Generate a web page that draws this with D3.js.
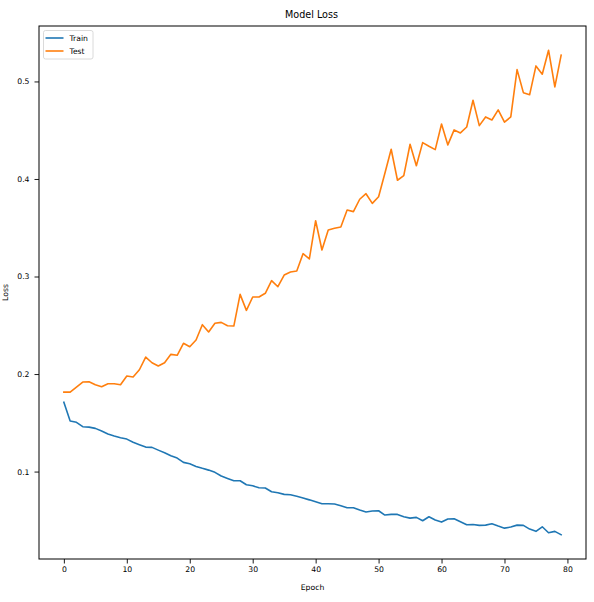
<!DOCTYPE html>
<html>
<head>
<meta charset="utf-8">
<script src="https://cdn.jsdelivr.net/npm/d3@7"></script>
<style>
  html, body { margin: 0; padding: 0; background: #fff; }
  svg { display: block; }
  text { font-family: "DejaVu Sans", sans-serif; fill: #000; }
</style>
</head>
<body>
<svg id="chart" width="594" height="602"></svg>
<script>
const epochs = d3.range(80);
const trainLoss = [
  0.171, 0.1518, 0.1505, 0.146, 0.1456, 0.1443, 0.1415, 0.1385, 0.1364, 0.1347,
  0.1333, 0.130, 0.1275, 0.1251, 0.1248, 0.122, 0.1193, 0.1162, 0.1138, 0.1094,
  0.108, 0.1053, 0.1033, 0.1015, 0.0992, 0.0954, 0.093, 0.0906, 0.0906, 0.0865,
  0.0854, 0.0834, 0.0831, 0.0793, 0.0783, 0.0766, 0.0763, 0.0746, 0.0728, 0.0710,
  0.069, 0.067, 0.067, 0.0667, 0.065, 0.0629, 0.0629, 0.0605, 0.0585, 0.0595,
  0.0598, 0.0554, 0.0561, 0.0561, 0.0537, 0.0523, 0.053, 0.0496, 0.0537, 0.0503,
  0.0482, 0.0513, 0.0516, 0.0485, 0.0454, 0.0458, 0.0448, 0.0451, 0.0465, 0.0441,
  0.042, 0.0431, 0.0451, 0.0448, 0.041, 0.0387, 0.0434, 0.0373, 0.0387, 0.0352
];
const testLoss = [
  0.1815, 0.1815, 0.1867, 0.1918, 0.192, 0.189, 0.187, 0.190, 0.190, 0.189,
  0.198, 0.197, 0.2044, 0.2174, 0.2116, 0.2082, 0.2116, 0.2202, 0.2192, 0.2315,
  0.228, 0.2349, 0.2506, 0.2431, 0.252, 0.253, 0.2495, 0.2492, 0.2817, 0.2653,
  0.279, 0.279, 0.2828, 0.2957, 0.2895, 0.3015, 0.3046, 0.3056, 0.3234, 0.318,
  0.3572, 0.3272, 0.3477, 0.3494, 0.3508, 0.3682, 0.3665, 0.3792, 0.3849, 0.375,
  0.3818, 0.4058, 0.4305, 0.3987, 0.4034, 0.4356, 0.4136, 0.4373, 0.4335, 0.4301,
  0.4564, 0.4349, 0.4503, 0.4472, 0.4533, 0.4807, 0.4547, 0.4636, 0.4605, 0.4708,
  0.4582, 0.4636, 0.5121, 0.4885, 0.4864, 0.5159, 0.5074, 0.532, 0.4944, 0.5269
];
const xTicks = [0, 10, 20, 30, 40, 50, 60, 70, 80];
const yTicks = [0.1, 0.2, 0.3, 0.4, 0.5];
const seriesNames = ["Train", "Test"];
const seriesColors = ["#1f77b4", "#ff7f0e"];
const titleText = "Model Loss";
const xLabel = "Epoch";
const yLabel = "Loss";

const svg = d3.select("#chart");
const L = 39, R = 586, T = 26, B = 559;

// matplotlib-style 5% margins
const xMin = d3.min(epochs), xMax = d3.max(epochs);
const xPad = (xMax - xMin) * 0.05;
const allY = trainLoss.concat(testLoss);
const yMin = d3.min(allY), yMax = d3.max(allY);
const yPad = (yMax - yMin) * 0.05;

const x = d3.scaleLinear().domain([xMin - xPad, xMax + xPad]).range([L, R]);
const y = d3.scaleLinear().domain([yMin - yPad, yMax + yPad]).range([B, T]);

const tickFont = "7.7px";

// x axis
const xAxis = svg.append("g")
  .attr("transform", `translate(0,${B})`)
  .call(d3.axisBottom(x).tickValues(xTicks).tickFormat(d3.format("d")).tickSize(4.5).tickPadding(3));
xAxis.select(".domain").remove();
xAxis.selectAll("line").attr("stroke", "#000").attr("stroke-width", 0.9);
xAxis.selectAll("text").style("font-size", tickFont).style("font-family", "DejaVu Sans").attr("fill", "#000");

// y axis
const yAxis = svg.append("g")
  .attr("transform", `translate(${L},0)`)
  .call(d3.axisLeft(y).tickValues(yTicks).tickFormat(d3.format(".1f")).tickSize(4.5).tickPadding(5));
yAxis.select(".domain").remove();
yAxis.selectAll("line").attr("stroke", "#000").attr("stroke-width", 0.9);
yAxis.selectAll("text").style("font-size", tickFont).style("font-family", "DejaVu Sans").attr("fill", "#000");

// lines
svg.append("clipPath").attr("id", "clip")
  .append("rect").attr("x", L).attr("y", T).attr("width", R - L).attr("height", B - T);

const lineGen = d3.line().x((d, i) => x(epochs[i])).y(d => y(d));
const seriesData = [trainLoss, testLoss];
svg.append("g").attr("clip-path", "url(#clip)")
  .selectAll("path.series")
  .data(seriesData)
  .join("path")
  .attr("class", "series")
  .attr("d", d => lineGen(d))
  .attr("fill", "none")
  .attr("stroke", (d, i) => seriesColors[i])
  .attr("stroke-width", 1.6)
  .attr("stroke-linejoin", "round")
  .attr("stroke-linecap", "square");

// spines
svg.append("rect")
  .attr("x", L).attr("y", T).attr("width", R - L).attr("height", B - T)
  .attr("fill", "none").attr("stroke", "#000").attr("stroke-width", 1);

// title
svg.append("text")
  .attr("x", (L + R) / 2 - 1).attr("y", 18.3)
  .attr("text-anchor", "middle")
  .style("font-size", "9.6px")
  .text(titleText);

// axis labels
svg.append("text")
  .attr("x", (L + R) / 2).attr("y", 589.5)
  .attr("text-anchor", "middle")
  .style("font-size", "7.7px")
  .text(xLabel);

svg.append("text")
  .attr("transform", `translate(8,${(T + B) / 2}) rotate(-90)`)
  .attr("text-anchor", "middle")
  .style("font-size", "7.7px")
  .text(yLabel);

// legend
const leg = svg.append("g");
leg.append("rect")
  .attr("x", 43.5).attr("y", 30.5).attr("width", 49.5).attr("height", 28.5)
  .attr("rx", 2).attr("ry", 2)
  .attr("fill", "#fff").attr("fill-opacity", 0.8)
  .attr("stroke", "#d0d0d0").attr("stroke-width", 0.8);
seriesNames.forEach((name, i) => {
  const ly = 38 + i * 13;
  leg.append("line")
    .attr("x1", 45.5).attr("x2", 63.5).attr("y1", ly).attr("y2", ly)
    .attr("stroke", seriesColors[i]).attr("stroke-width", 1.6);
  leg.append("text")
    .attr("x", 69.5).attr("y", ly + 2.8)
    .style("font-size", "7.7px")
    .text(name);
});
</script>
</body>
</html>
